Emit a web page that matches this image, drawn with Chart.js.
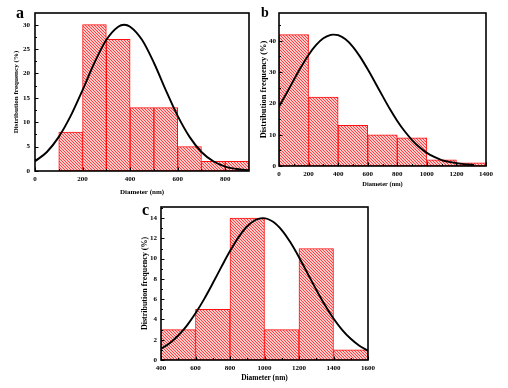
<!DOCTYPE html>
<html>
<head>
<meta charset="utf-8">
<script src="https://cdn.jsdelivr.net/npm/chart.js@4.4.1/dist/chart.umd.min.js"></script>
<style>
  html, body { margin: 0; padding: 0; background: #fff; width: 508px; height: 388px; overflow: hidden; }
  canvas { position: absolute; }
  .tag { position: absolute; font-family: "Liberation Serif", serif; font-weight: bold; color: #000; line-height: 1; }
</style>
</head>
<body>
<canvas id="chartA" width="254" height="200" style="left:0;top:0"></canvas>
<canvas id="chartB" width="254" height="194" style="left:254px;top:0"></canvas>
<canvas id="chartC" width="270" height="194" style="left:120px;top:194px"></canvas>
<div class="tag" style="left:16px;top:5px;font-size:16px">a</div>
<div class="tag" style="left:261px;top:6px;font-size:14px">b</div>
<div class="tag" style="left:142px;top:202px;font-size:16px">c</div>
<script>
// panel a
const aBinStart = [100, 200, 300, 400, 500, 600, 700, 800];
const aBinWidth = 100;
const aFreq = [8, 30, 27, 13, 13, 5, 2, 2];
const aCurveX = [0, 50, 100, 150, 200, 250, 300, 350, 375, 400, 450, 500, 550, 600, 650, 700, 750, 800, 850, 900];
const aCurveY = [2.0, 3.9, 7.0, 11.3, 16.6, 22.2, 26.9, 29.6, 30.0, 29.6, 26.9, 22.2, 16.6, 11.3, 7.0, 3.9, 2.0, 0.9, 0.4, 0.15];

// panel b
const bBinStart = [0, 200, 400, 600, 800, 1000, 1200];
const bBinWidth = 200;
const bFreq = [42, 22, 13, 10, 9, 2, 1];
const bCurveX = [0, 50, 100, 150, 200, 250, 300, 350, 370, 400, 450, 500, 550, 600, 650, 700, 750, 800, 850, 900, 950, 1000, 1050, 1100, 1150, 1200, 1250, 1300, 1320];
const bCurveY = [19.0, 23.2, 27.5, 31.7, 35.5, 38.6, 40.8, 41.9, 42.0, 41.8, 40.5, 38.1, 34.8, 30.9, 26.7, 22.4, 18.2, 14.4, 11.1, 8.3, 6.0, 4.2, 2.9, 1.9, 1.3, 0.9, 0.6, 0.4, 0.3];

// panel c
const cBinStart = [400, 600, 800, 1000, 1200, 1400];
const cBinWidth = 200;
const cFreq = [3, 5, 14, 3, 11, 1];
const cCurveX = [400, 450, 500, 550, 600, 650, 700, 750, 800, 850, 900, 950, 990, 1050, 1100, 1150, 1200, 1250, 1300, 1350, 1400, 1450, 1500, 1550, 1600];
const cCurveY = [1.1, 1.66, 2.42, 3.4, 4.61, 6.01, 7.57, 9.19, 10.75, 12.13, 13.2, 13.84, 14.0, 13.64, 12.82, 11.61, 10.14, 8.54, 6.94, 5.43, 4.1, 2.98, 2.09, 1.41, 0.92];

const FONT = '"Liberation Serif", "Times New Roman", serif';

function hatch(ctx) {
  const c = document.createElement('canvas');
  c.width = 3; c.height = 3;
  const g = c.getContext('2d');
  g.fillStyle = '#ffcaca';
  g.fillRect(0, 0, 3, 3);
  g.fillStyle = '#ff4040';
  for (let i = 0; i < 3; i++) g.fillRect(i, i, 1, 1);
  return ctx.createPattern(c, 'repeat');
}

// black frame + inward major/minor ticks
const frameTicks = {
  id: 'frameTicks',
  afterDraw(chart) {
    const { ctx, chartArea: area } = chart;
    const xs = chart.scales.x, ys = chart.scales.y;
    ctx.save();
    ctx.strokeStyle = '#000';
    ctx.lineWidth = 1;
    const mark = (scale, v, len) => {
      const p = Math.round(scale.getPixelForValue(v)) + 0.5;
      ctx.beginPath();
      if (scale.isHorizontal()) { ctx.moveTo(p, area.bottom); ctx.lineTo(p, area.bottom - len); }
      else { ctx.moveTo(area.left, p); ctx.lineTo(area.left + len, p); }
      ctx.stroke();
    };
    [xs, ys].forEach(scale => {
      const t = scale.ticks;
      const step = t.length > 1 ? t[1].value - t[0].value : 0;
      t.forEach(tk => {
        mark(scale, tk.value, 3.5);
        const m = tk.value + step / 2;
        if (m < scale.max) mark(scale, m, 2);
      });
    });
    ctx.lineWidth = 1.6;
    ctx.strokeRect(area.left, area.top, area.right - area.left, area.bottom - area.top);
    ctx.restore();
  }
};

function makeChart(id, binStart, binWidth, freq, curveX, curveY, L) {
  const ctx = document.getElementById(id).getContext('2d');
  return new Chart(ctx, {
    type: 'bar',
    data: {
      datasets: [
        {
          type: 'line',
          data: curveX.map((x, i) => ({ x, y: curveY[i] })),
          borderColor: '#000',
          borderWidth: 1.9,
          pointRadius: 0,
          fill: false,
          cubicInterpolationMode: 'monotone',
          order: 1
        },
        {
          type: 'bar',
          data: binStart.map((s, i) => ({ x: s + binWidth / 2, y: freq[i] })),
          backgroundColor: hatch(ctx),
          borderColor: '#ff1010',
          borderWidth: 1,
          borderSkipped: false,
          barPercentage: 1,
          categoryPercentage: 1,
          order: 2
        }
      ]
    },
    options: {
      responsive: false,
      animation: false,
      events: [],
      layout: { padding: L.pad },
      plugins: { legend: { display: false }, tooltip: { enabled: false } },
      scales: {
        x: {
          type: 'linear',
          min: L.xMin, max: L.xMax,
          offset: false,
          grid: { display: false, drawTicks: false, offset: false },
          border: { display: false },
          ticks: {
            stepSize: L.xStep, includeBounds: false, autoSkip: false, maxRotation: 0,
            padding: L.xTickPad, color: '#000',
            font: { family: FONT, size: 7, weight: 'bold' },
            callback: v => String(v)
          },
          title: {
            display: true, text: 'Diameter (nm)', color: '#000',
            font: { family: FONT, size: L.xTitleSize, weight: 'bold' },
            padding: { top: 0, bottom: L.xTitlePad }
          },
          afterFit: s => { s.height = L.xh; }
        },
        y: {
          min: 0, max: L.yMax,
          grid: { display: false, drawTicks: false },
          border: { display: false },
          ticks: {
            stepSize: L.yStep, includeBounds: false,
            padding: L.yTickPad, color: '#000',
            font: { family: FONT, size: 7, weight: 'bold' },
            callback: v => String(v)
          },
          title: {
            display: true, text: 'Distribution frequency (%)', color: '#000',
            font: { family: FONT, size: L.yTitleSize, weight: 'bold' },
            padding: { top: L.yTitlePad, bottom: 0 }
          },
          afterFit: s => { s.width = L.yw; }
        }
      }
    },
    plugins: [frameTicks]
  });
}

makeChart('chartA', aBinStart, aBinWidth, aFreq, aCurveX, aCurveY, {
  pad: { top: 13, right: 5, left: 0, bottom: 0 }, yw: 35, xh: 29,
  xMin: 0, xMax: 900, xStep: 200, yMax: 32.4, yStep: 5,
  xTickPad: 4, yTickPad: 5, xTitleSize: 7, xTitlePad: 3.8, yTitleSize: 7.1, yTitlePad: 11.7
});
makeChart('chartB', bBinStart, bBinWidth, bFreq, bCurveX, bCurveY, {
  pad: { top: 13, right: 22, left: 0, bottom: 0 }, yw: 25, xh: 28,
  xMin: 0, xMax: 1400, xStep: 200, yMax: 48.9, yStep: 10,
  xTickPad: 3.5, yTickPad: 3, xTitleSize: 6.4, xTitlePad: 6.2, yTitleSize: 8.4, yTitlePad: 4.5
});
makeChart('chartC', cBinStart, cBinWidth, cFreq, cCurveX, cCurveY, {
  pad: { top: 13, right: 22, left: 0, bottom: 0 }, yw: 41, xh: 28,
  xMin: 400, xMax: 1600, xStep: 200, yMax: 15.1, yStep: 2,
  xTickPad: 3.5, yTickPad: 4, xTitleSize: 7.4, xTitlePad: 5.6, yTitleSize: 8, yTitlePad: 19.7
});
</script>
</body>
</html>
